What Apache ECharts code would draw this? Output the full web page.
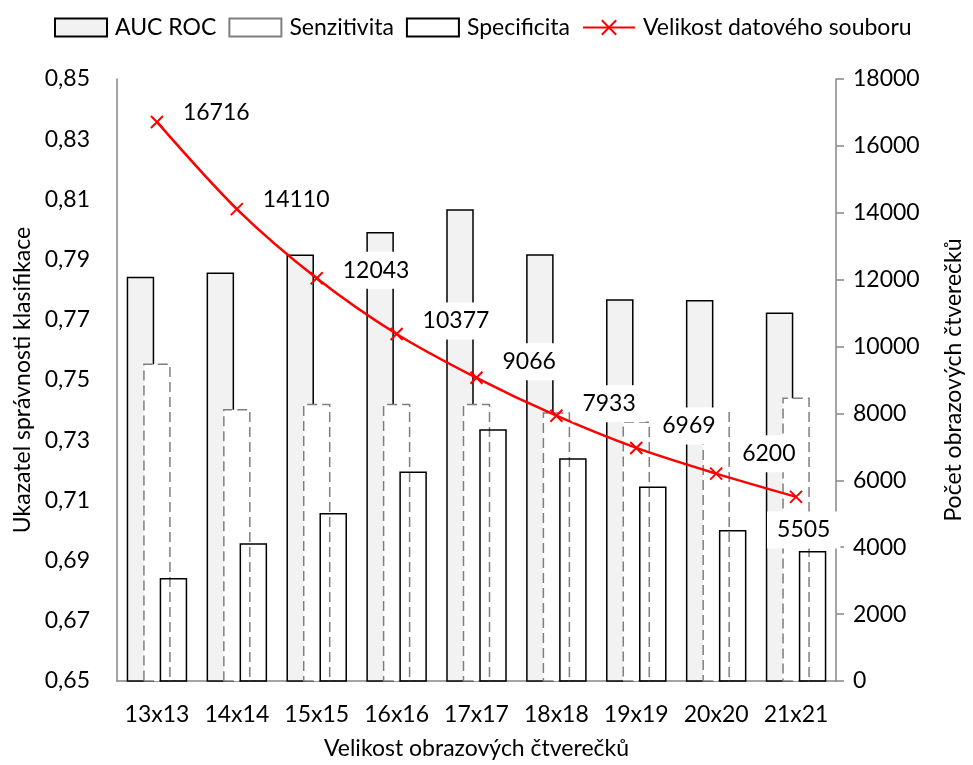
<!DOCTYPE html>
<html>
<head>
<meta charset="utf-8">
<script src="https://cdn.jsdelivr.net/npm/echarts@6/dist/echarts.min.js"></script>
<style>
html,body{margin:0;padding:0;background:#fff;}
#main{width:973px;height:765px;}
</style>
</head>
<body>
<div id="main"></div>
<script>
const categories = ['13x13','14x14','15x15','16x16','17x17','18x18','19x19','20x20','21x21'];
const aucRoc = [0.7843, 0.7857, 0.7917, 0.7992, 0.8067, 0.7918, 0.7768, 0.7766, 0.7724];
const senzitivita = [0.7555, 0.7404, 0.7421, 0.7421, 0.7421, 0.7393, 0.7362, 0.7398, 0.7442];
const specificita = [0.6842, 0.6958, 0.7058, 0.7196, 0.7336, 0.7240, 0.7146, 0.7002, 0.6932];
const velikost = [16716, 14110, 12043, 10377, 9066, 7933, 6969, 6200, 5505];
const leftTicks = {min: 0.65, max: 0.85, interval: 0.02};
const rightTicks = {min: 0, max: 18000, interval: 2000};

// label offsets (style only)
const labelOffsets = [[9,-9],[9,-10],[9,-8],[9,-13],[9,-16],[9,-12],[9,-22],[9,-20],[-36,33]];

const FONT = 'Lato';
const chart = echarts.init(document.getElementById('main'), null, {renderer: 'canvas'});
const crossPath = 'path://M0,0L10,10M10,0L0,10';

chart.setOption({
  animation: false,
  textStyle: {fontFamily: FONT, color: '#000'},
  legend: {
    top: 11,
    left: 49,
    itemWidth: 52,
    itemHeight: 18,
    itemGap: 12,
    textStyle: {fontFamily: FONT, fontSize: 23, color: '#000', padding: [0,0,0,3]},
    data: [
      {name: 'AUC ROC', icon: 'rect'},
      {name: 'Senzitivita', icon: 'rect'},
      {name: 'Specificita', icon: 'rect'},
      {name: 'Velikost datového souboru'}
    ]
  },
  grid: {left: 117, right: 130, top: 79, bottom: 81, containLabel: false},
  xAxis: {
    type: 'category',
    data: categories,
    axisLine: {lineStyle: {color: '#868686', width: 1.5}},
    axisTick: {show: false},
    axisLabel: {fontFamily: FONT, fontSize: 23, color: '#000', margin: 22, interval: 0},
    name: 'Velikost obrazových čtverečků',
    nameLocation: 'middle',
    nameGap: 56,
    nameTextStyle: {fontFamily: FONT, fontSize: 23, color: '#000'}
  },
  yAxis: [
    {
      type: 'value',
      min: leftTicks.min, max: leftTicks.max, interval: leftTicks.interval,
      axisLine: {show: true, lineStyle: {color: '#868686', width: 1.5}},
      axisTick: {show: false},
      splitLine: {show: false},
      axisLabel: {fontFamily: FONT, fontSize: 23, color: '#000', margin: 27,
        formatter: v => v.toFixed(2).replace('.', ',')},
      name: 'Ukazatel správnosti klasifikace',
      nameLocation: 'middle',
      nameRotate: 90,
      nameGap: 82,
      nameTextStyle: {fontFamily: FONT, fontSize: 23, color: '#000'}
    },
    {
      type: 'value',
      position: 'right',
      min: rightTicks.min, max: rightTicks.max, interval: rightTicks.interval,
      axisLine: {show: true, lineStyle: {color: '#868686', width: 1.5}},
      axisTick: {show: true, inside: false, length: 8, lineStyle: {color: '#868686', width: 1.5}},
      splitLine: {show: false},
      axisLabel: {fontFamily: FONT, fontSize: 23, color: '#000', margin: 17,
        formatter: v => String(v)},
      name: 'Počet obrazových čtverečků',
      nameLocation: 'middle',
      nameRotate: 90,
      nameGap: 106,
      nameTextStyle: {fontFamily: FONT, fontSize: 23, color: '#000'}
    }
  ],
  series: [
    {
      name: 'AUC ROC',
      type: 'bar',
      yAxisIndex: 0,
      data: aucRoc,
      barWidth: 27.5,
      barGap: '-40%',
      itemStyle: {color: '#f2f2f2', borderColor: '#000', borderWidth: 1.5}
    },
    {
      name: 'Senzitivita',
      type: 'bar',
      yAxisIndex: 0,
      data: senzitivita,
      barWidth: 27.5,
      barGap: '-40%',
      itemStyle: {color: '#ffffff', borderColor: '#7f7f7f', borderWidth: 1.5, borderType: [10, 5]}
    },
    {
      name: 'Specificita',
      type: 'bar',
      yAxisIndex: 0,
      data: specificita,
      barWidth: 27.5,
      barGap: '-40%',
      itemStyle: {color: 'rgba(255,255,255,0)', borderColor: '#000', borderWidth: 1.5}
    },
    {
      name: 'Velikost datového souboru',
      type: 'line',
      yAxisIndex: 1,
      smooth: 0.3,
      symbol: crossPath,
      symbolSize: 12,
      lineStyle: {color: '#ff0000', width: 2.5},
      itemStyle: {color: '#ff0000', borderColor: '#ff0000', borderWidth: 2},
      data: velikost.map((v, i) => ({
        value: v,
        label: {offset: labelOffsets[i]}
      })),
      label: {
        show: true,
        position: 'right',
        distance: 0,
        fontFamily: FONT,
        fontSize: 23,
        color: '#000',
        backgroundColor: '#ffffff',
        padding: [7, 10]
      },
      z: 5
    }
  ]
});
</script>
</body>
</html>
